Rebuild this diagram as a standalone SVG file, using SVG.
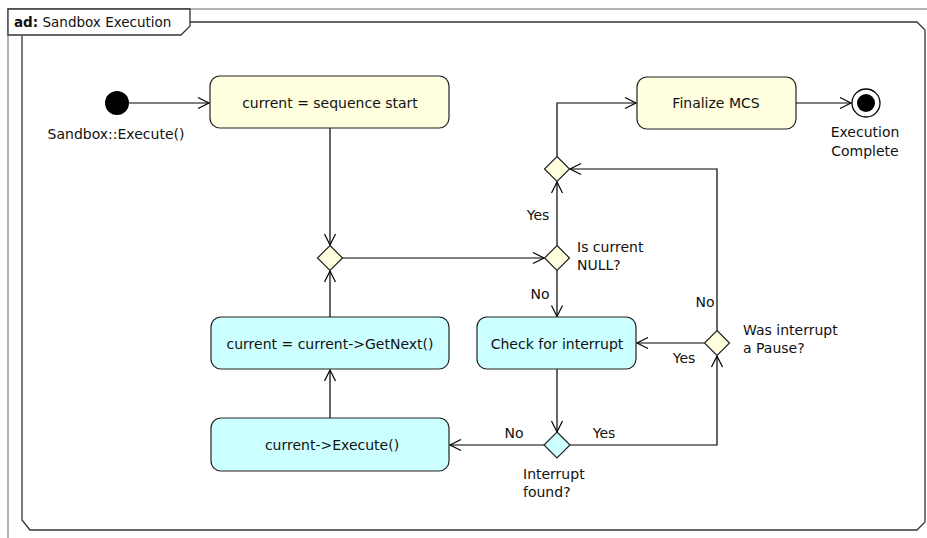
<svg xmlns="http://www.w3.org/2000/svg" width="927" height="538" viewBox="0 0 927 538">
<defs>
<style>
text{font-family:"DejaVu Sans","Liberation Sans",sans-serif;font-size:14px;fill:#111}
.act{stroke:#222;stroke-width:1.2}
.y{fill:#ffffe0}
.c{fill:#ccffff}
.e{fill:none;stroke:#000;stroke-width:1.2}
.m{text-anchor:middle}
</style>
<marker id="arr" viewBox="-12 -7 14 14" markerWidth="14" markerHeight="14" refX="0" refY="0" orient="auto" markerUnits="userSpaceOnUse">
<path d="M-11,-5.5 L0,0 L-11,5.5" fill="none" stroke="#000" stroke-width="1.2"/>
</marker>
</defs>
<rect width="927" height="538" fill="#fff"/>
<g id="frame">
<path d="M8,538 V9 H927" fill="none" stroke="#999" stroke-width="1.5"/>
<path d="M22,36 V520 L30,530 H917 L925,522 V30 L917,22 H190" fill="none" stroke="#333" stroke-width="1.3"/>
<path d="M8,9 H190 V26 L181,35 H8 Z" fill="#fff" stroke="#333" stroke-width="1.3"/>
<text x="14" y="27" style="font-size:13.5px"><tspan font-weight="bold">ad:</tspan> Sandbox Execution</text>
</g>
<g id="connectors">
<path class="e" d="M129,103 H209" marker-end="url(#arr)"/>
<path class="e" d="M330,128 V245" marker-end="url(#arr)"/>
<path class="e" d="M342.5,258 H544" marker-end="url(#arr)"/>
<path class="e" d="M557,245.5 V182" marker-end="url(#arr)"/>
<path class="e" d="M557,156.5 V103 H636" marker-end="url(#arr)"/>
<path class="e" d="M796,103 H851" marker-end="url(#arr)"/>
<path class="e" d="M557,270.5 V316.5" marker-end="url(#arr)"/>
<path class="e" d="M557,369 V432" marker-end="url(#arr)"/>
<path class="e" d="M544.5,445 H450" marker-end="url(#arr)"/>
<path class="e" d="M569.5,445 H717 V356" marker-end="url(#arr)"/>
<path class="e" d="M704.5,343 H637" marker-end="url(#arr)"/>
<path class="e" d="M717,330.5 V169 H570" marker-end="url(#arr)"/>
<path class="e" d="M330,418 V370" marker-end="url(#arr)"/>
<path class="e" d="M330,317 V271" marker-end="url(#arr)"/>
<text x="538" y="220" class="m">Yes</text>
<text x="540" y="299" class="m">No</text>
<text x="705" y="307" class="m">No</text>
<text x="684" y="363" class="m">Yes</text>
<text x="514" y="438" class="m">No</text>
<text x="604" y="438" class="m">Yes</text>
</g>
<g id="start">
<circle cx="117" cy="103" r="12" fill="#000"/>
<text x="116" y="139" class="m">Sandbox::Execute()</text>
</g>
<g id="seqStart">
<rect x="210" y="76" width="239" height="52" rx="10" class="act y"/>
<text x="330" y="108" class="m">current = sequence start</text>
</g>
<g id="finalize">
<rect x="637" y="77" width="159" height="52" rx="10" class="act y"/>
<text x="716" y="108" class="m">Finalize MCS</text>
</g>
<g id="end">
<circle cx="866" cy="103" r="14" fill="#fff" stroke="#000" stroke-width="1.3"/>
<circle cx="866" cy="103" r="9" fill="#000"/>
<text x="865" y="137" class="m">Execution</text>
<text x="865" y="156" class="m">Complete</text>
</g>
<g id="mergeTop">
<path d="M557,156.5 L569.5,169 L557,181.5 L544.5,169 Z" class="act y"/>
</g>
<g id="mergeLeft">
<path d="M330,245.5 L342.5,258 L330,270.5 L317.5,258 Z" class="act y"/>
</g>
<g id="isNull">
<path d="M557,245.5 L569.5,258 L557,270.5 L544.5,258 Z" class="act y"/>
<text x="577" y="252">Is current</text>
<text x="577" y="270">NULL?</text>
</g>
<g id="getNext">
<rect x="211" y="317" width="238" height="52" rx="10" class="act c"/>
<text x="330" y="349" class="m">current = current-&gt;GetNext()</text>
</g>
<g id="checkInterrupt">
<rect x="477" y="317" width="159" height="52" rx="10" class="act c"/>
<text x="557" y="349" class="m">Check for interrupt</text>
</g>
<g id="wasPause">
<path d="M717,330.5 L729.5,343 L717,355.5 L704.5,343 Z" class="act y"/>
<text x="743" y="335">Was interrupt</text>
<text x="743" y="353">a Pause?</text>
</g>
<g id="execute">
<rect x="211" y="418" width="238" height="53" rx="10" class="act c"/>
<text x="332" y="450" class="m">current-&gt;Execute()</text>
</g>
<g id="interruptFound">
<path d="M557,432 L570,445 L557,458 L544,445 Z" class="act c"/>
<text x="523" y="479">Interrupt</text>
<text x="523" y="497">found?</text>
</g>
</svg>
